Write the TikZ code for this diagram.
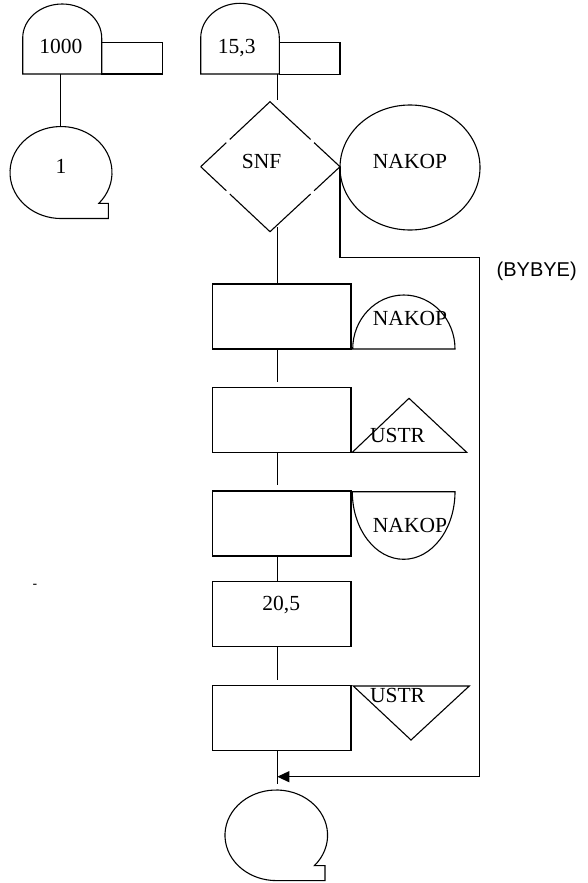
\documentclass[tikz,border=0pt]{standalone}
\usepackage{fontspec}
\setmainfont{Liberation Serif}
\newfontfamily\arialfont{Liberation Sans}
\usetikzlibrary{calc,arrows.meta}
\tikzset{
  ln/.style={line width=1.1pt, line join=miter},
  box/.style={draw, ln, rectangle, minimum width=138.3pt, minimum height=65pt, inner sep=0pt, outer sep=0pt},
  smallbox/.style={draw, ln, rectangle, minimum width=61pt, minimum height=31.7pt, inner sep=0pt, outer sep=0pt},
  lbl/.style={inner sep=0pt, font=\fontsize{21.5}{24}\selectfont},
  sanslbl/.style={inner sep=0pt, font=\arialfont\fontsize{20}{23}\selectfont},
}
\begin{document}
\begin{tikzpicture}[x=1pt,y=-1pt]
\useasboundingbox (0,0) rectangle (587,883);
\fill[white] (0,0) rectangle (587,883);
\coordinate (spine) at (277.3,0);

% ---- top left: 1000 display shape with attached box
\draw[ln] (22.7,74) -- (22.7,38) arc[start angle=180, end angle=360, x radius=39.5, y radius=34] -- (101.7,74) -- cycle;
\node[smallbox] (k1000) at (132.2,58.15) {};
\node[lbl] (t1000) at (60.8,46.7) {1000};
\coordinate (k1000b) at (60.7,74);
% connector 1
\draw[ln] (61,218.5) -- (108.3,218.5) -- (108.3,203.3) -- (98.9,203.3)
  arc[start angle=42, end angle=-270, x radius=51, y radius=46] -- cycle;
\node[lbl] (c1) at (61,166) {1};
\coordinate (c1top) at (60.7,126.7);
\draw[ln] (k1000b) -- (c1top);

% ---- 15,3 display shape
\draw[ln] (200.7,74) -- (200.7,38) arc[start angle=180, end angle=360, x radius=39.3, y radius=34.7] -- (279.3,74) -- cycle;
\node[smallbox, minimum width=60.7pt] (k153) at (309.65,58.35) {};
\node[lbl] (t153) at (236.7,48) {15,3};

% ---- SNF diamond (with small breaks)
\coordinate (dL) at (200.7,166.7);
\coordinate (dT) at (270,101.7);
\coordinate (dR) at (340,166.7);
\coordinate (dB) at (270,231.7);
\draw[ln] (dL) -- ($(dL)!0.37!(dT)$) ($(dL)!0.42!(dT)$) -- (dT)
  -- ($(dT)!0.58!(dR)$) ($(dT)!0.63!(dR)$) -- (dR)
  -- ($(dR)!0.37!(dB)$) ($(dR)!0.42!(dB)$) -- (dB)
  -- ($(dB)!0.58!(dL)$) ($(dB)!0.63!(dL)$) -- (dL);
\node[lbl] (snf) at (261.7,161.7) {SNF};
\draw[ln] (spine |- 0,74) -- (spine |- 0,100);

% NAKOP connector circle
\draw[ln] (410,167.5) ellipse[x radius=70, y radius=62.5];
\node[lbl] (nakop0) at (410,161.7) {NAKOP};

% ---- process boxes
\node[box] (r1) at (281.85,316.5) {};
\node[box] (r2) at (281.85,419.8) {};
\node[box] (r3) at (281.85,523.5) {};
\node[box] (r4) at (281.85,614.2) {};
\node[lbl] (t205) at (281.3,605) {20,5};
\node[box] (r5) at (281.85,718.2) {};

\draw[ln] (spine |- 0,227) -- (r1.north -| spine);
\draw[ln] (r1.south -| spine) -- ++(0,32.7);
\draw[ln] (r2.south -| spine) -- ++(0,32.7);
\draw[ln] (r3.south -| spine) -- (r4.north -| spine);
\draw[ln] (r4.south -| spine) -- ++(0,33.3);
\draw[ln] (r5.south -| spine) -- ++(0,33.3) coordinate (endin);

% side shapes
\draw[ln] (352.7,349) arc[start angle=180, end angle=360, x radius=51.15, y radius=54] -- cycle;
\node[lbl] (nakop1) at (410,318.3) {NAKOP};
\draw[ln] (352.3,452.3) -- (409,398.3) -- (466.7,452.3) -- cycle;
\node[lbl] (ustr1) at (397.5,435.7) {USTR};
\draw[ln] (352.3,491.7) arc[start angle=180, end angle=0, x radius=51.35, y radius=67.6] -- cycle;
\node[lbl] (nakop2) at (410,525) {NAKOP};
\draw[ln] (353.3,686) -- (469.3,686) -- (411,740) -- cycle;
\node[lbl] (ustr2) at (397.5,695) {USTR};

% ---- return line
\coordinate (ret1) at (479.3,257.7);
\coordinate (ret2) at (479.3,776.7);
\coordinate (retend) at (277.3,776.7);
\draw[ln, -{Triangle[length=12pt,width=11pt]}] (dR) |- (ret1) -- (ret2) -- (retend);
\node[sanslbl] (bybye) at (536.7,271.7) {(BYBYE)};

% ---- end connector
\draw[ln] (276.3,880.6) -- (325,880.6) -- (325,865.6) -- (314.4,865.6)
  arc[start angle=42, end angle=-270, x radius=51.3, y radius=45.3] -- cycle;

% stray dash
\node[sanslbl, font=\arialfont\fontsize{14}{16}\selectfont] (dash) at (35,586) {-};
\end{tikzpicture}
\end{document}
